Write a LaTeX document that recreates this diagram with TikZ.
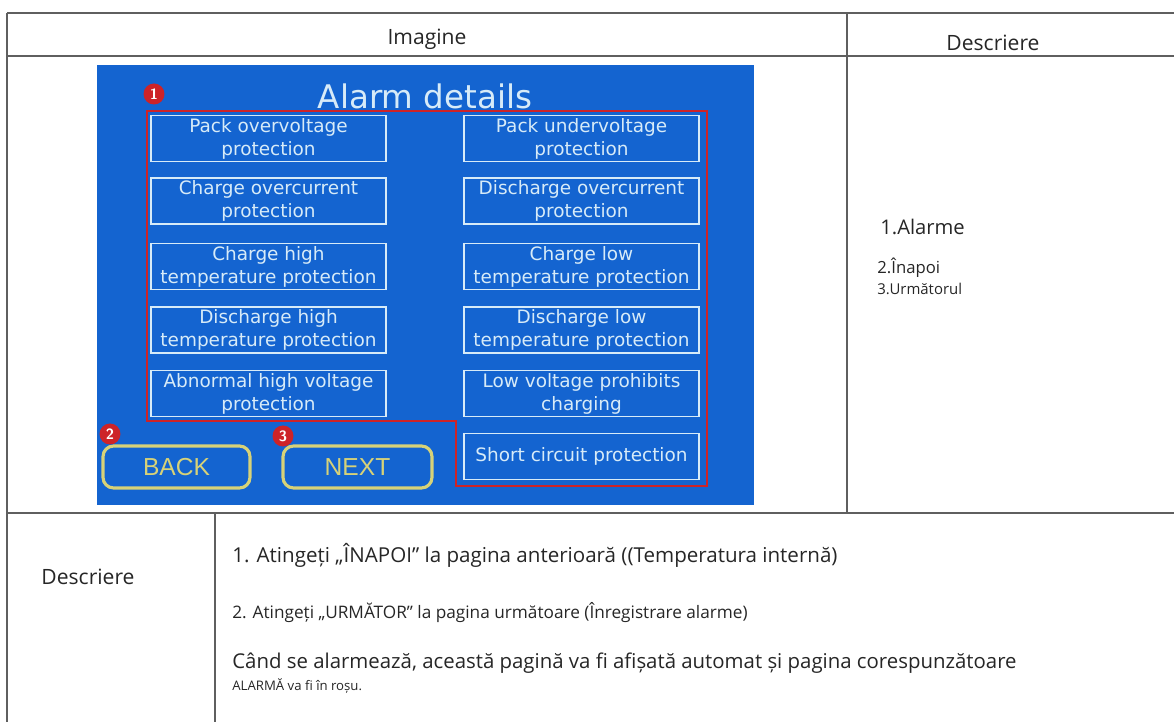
\documentclass[tikz,border=0pt]{standalone}
\usepackage{fontspec}
\setmainfont{Open Sans}
\newfontfamily\hmifont{DejaVu Sans}
\newfontfamily\btnfont{Liberation Sans}

\definecolor{screenblue}{RGB}{20,100,208}
\definecolor{boxline}{RGB}{215,235,248}
\definecolor{alarmred}{RGB}{205,35,40}
\definecolor{btnyellow}{RGB}{215,210,120}
\definecolor{gridgrey}{RGB}{95,95,95}

\tikzset{
  gridline/.style={draw=gridgrey, line width=1.1pt},
  alarmbox/.style={draw=boxline, line width=1pt, minimum width=4.7cm, minimum height=0.92cm,
    inner sep=0pt, align=center, text=boxline, font=\hmifont\fontsize{10.5}{13}\selectfont},
  navbutton/.style={draw=btnyellow, line width=1.8pt, rounded corners=6pt, minimum height=0.84cm,
    text=btnyellow, font=\btnfont\fontsize{14}{16}\selectfont},
  badge/.style={circle, fill=alarmred, text=white, inner sep=0pt, minimum size=0.42cm,
    font=\sffamily\bfseries\fontsize{8.5}{9}\selectfont},
  celltext/.style={text=black!85, font=\fontsize{12}{14}\selectfont},
  desctext/.style={anchor=west, inner sep=0pt, text=black!85}
}

\begin{document}
\begin{tikzpicture}[x=0.02cm, y=-0.02cm]
\useasboundingbox (0,0) rectangle (1174,722);

% Table
\draw[gridline] (7,13) -- (1174,13)
                (7,56) -- (1174,56)
                (7,513) -- (1174,513)
                (7,13) -- (7,722)
                (847,13) -- (847,513)
                (215,513) -- (215,722);

\path (427,39) node[celltext] (HeadImage) {Imagine}
      (993,43) node[celltext] (HeadDesc)  {Descriere};

% Screen
\fill[screenblue] (97,65) rectangle (754,505);
\path (425,96) node[text=boxline, font=\hmifont\fontsize{18.5}{20}\selectfont] (Title) {Alarm details};
\draw[alarmred, line width=1.2pt] (147,111) -- (707,111) -- (707,486) -- (456,486)
      -- (456,421) -- (147,421) -- cycle;

% Alarms, left column
\path (268.5,138.5) node[alarmbox] (PackOver)   {Pack overvoltage\\protection}
      (268.5,201)   node[alarmbox] (ChargeOver) {Charge overcurrent\\protection}
      (268.5,266.5) node[alarmbox] (ChargeHigh) {Charge high\\temperature protection}
      (268.5,330)   node[alarmbox] (DischHigh)  {Discharge high\\temperature protection}
      (268.5,393.5) node[alarmbox] (AbnHigh)    {Abnormal high voltage\\protection};

% Alarms, right column
\path (581.5,138.5) node[alarmbox] (PackUnder)  {Pack undervoltage\\protection}
      (581.5,201)   node[alarmbox] (DischOver)  {Discharge overcurrent\\protection}
      (581.5,266.5) node[alarmbox] (ChargeLow)  {Charge low\\temperature protection}
      (581.5,330)   node[alarmbox] (DischLow)   {Discharge low\\temperature protection}
      (581.5,393.5) node[alarmbox] (LowProhib)  {Low voltage prohibits\\charging}
      (581.5,456.5) node[alarmbox] (ShortCirc)  {Short circuit protection};

% Buttons
\path (176.5,467) node[navbutton, minimum width=2.94cm] (Back) {BACK}
      (357.5,467) node[navbutton, minimum width=2.98cm] (Next) {NEXT};

% Badges
\path (154,94)  node[badge] (BadgeA) {1}
      (110,434) node[badge] (BadgeB) {2}
      (283,436) node[badge] (BadgeC) {3};

% Right description
\path (880,227) node[desctext, font=\fontsize{11.5}{13}\selectfont] (DescA) {1.Alarme}
      (877,268) node[desctext, font=\fontsize{9.5}{11}\selectfont] (DescB) {2.Înapoi}
      (877,289) node[desctext, font=\fontsize{8.5}{10}\selectfont] (DescC) {3.Următorul};

% Bottom description
\path (88,577) node[celltext] (FootHead) {Descriere};
\path (232,555) node[desctext, font=\fontsize{11.7}{14}\selectfont] (FootA)
        {1. Atingeți „ÎNAPOI” la pagina anterioară ((Temperatura internă)}
      (232,613) node[desctext, font=\fontsize{9.8}{12}\selectfont] (FootB)
        {2. Atingeți „URMĂTOR” la pagina următoare (Înregistrare alarme)}
      (232,663) node[desctext, font=\fontsize{11.6}{14}\selectfont] (FootC)
        {Când se alarmează, această pagină va fi afișată automat și pagina corespunzătoare}
      (232,686) node[desctext, font=\fontsize{7.5}{9}\selectfont] (FootD)
        {ALARMĂ va fi în roșu.};

\end{tikzpicture}
\end{document}
